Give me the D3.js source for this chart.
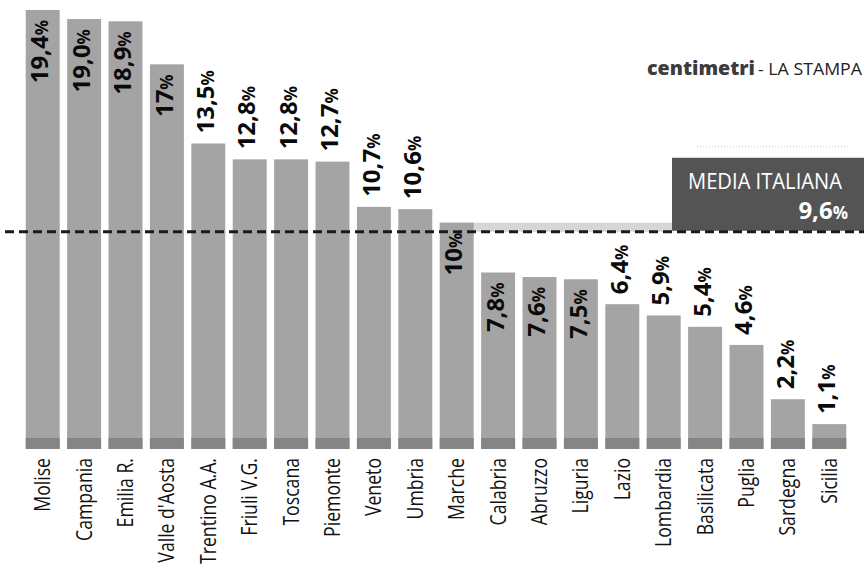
<!DOCTYPE html>
<html>
<head>
<meta charset="utf-8">
<script src="https://cdn.jsdelivr.net/npm/d3@7"></script>
<style>
  html, body { margin: 0; padding: 0; background: #fff; }
  svg { display: block; }
  text { font-family: "Open Sans", "Noto Sans", sans-serif; }
</style>
</head>
<body>
<svg id="chart" width="864" height="565"></svg>
<script>
// Regional values (%), ordered as drawn
const regions = ["Molise", "Campania", "Emilia R.", "Valle d'Aosta", "Trentino A.A.", "Friuli V.G.",
  "Toscana", "Piemonte", "Veneto", "Umbria", "Marche", "Calabria", "Abruzzo", "Liguria",
  "Lazio", "Lombardia", "Basilicata", "Puglia", "Sardegna", "Sicilia"];
const values = [19.4, 19.0, 18.9, 17, 13.5, 12.8, 12.8, 12.7, 10.7, 10.6, 10, 7.8, 7.6, 7.5,
  6.4, 5.9, 5.4, 4.6, 2.2, 1.1];
const valueLabels = ["19,4", "19,0", "18,9", "17", "13,5", "12,8", "12,8", "12,7", "10,7", "10,6",
  "10", "7,8", "7,6", "7,5", "6,4", "5,9", "5,4", "4,6", "2,2", "1,1"];
// bars whose value label sits inside the bar
const labelInside = ["Molise", "Campania", "Emilia R.", "Valle d'Aosta", "Marche", "Calabria", "Abruzzo", "Liguria"];
const average = 9.6;
const averageLabel = "9,6";
const averageTitle = "MEDIA ITALIANA";

const svg = d3.select("#chart");
const baseY = 449;

const x = d3.scaleBand().domain(regions).range([22, 850]).paddingInner(0.18).paddingOuter(0.09);
const y = d3.scaleLinear().domain([0, 19.4]).range([baseY, 10]);

const data = regions.map((r, i) => ({ region: r, value: values[i], label: valueLabels[i], inside: labelInside.includes(r) }));

// light band between Marche bar top and the average line
const avgY = y(average);
svg.append("rect")
  .attr("x", x("Marche"))
  .attr("y", y(10))
  .attr("width", 672 - x("Marche"))
  .attr("height", avgY - y(10))
  .attr("fill", "#d6d6d6");

// bars
const bars = svg.append("g");
bars.selectAll("rect.bar").data(data).join("rect")
  .attr("class", "bar")
  .attr("x", d => x(d.region))
  .attr("y", d => y(d.value))
  .attr("width", x.bandwidth())
  .attr("height", d => baseY - y(d.value))
  .attr("fill", "#a4a4a4");
bars.selectAll("rect.foot").data(data).join("rect")
  .attr("class", "foot")
  .attr("x", d => x(d.region))
  .attr("y", d => Math.max(y(d.value), baseY - 11))
  .attr("width", x.bandwidth())
  .attr("height", d => Math.min(11, baseY - y(d.value)))
  .attr("fill", "#858585");

// average box
const box = svg.append("g");
box.append("line")
  .attr("x1", 697).attr("x2", 850)
  .attr("y1", avgY - 85).attr("y2", avgY - 85)
  .attr("stroke", "#c4c4c4").attr("stroke-width", 1).attr("stroke-dasharray", "1,2");
box.append("rect")
  .attr("x", 672).attr("y", avgY - 74)
  .attr("width", 192).attr("height", 73)
  .attr("fill", "#545454");
box.append("text")
  .attr("x", 688).attr("y", avgY - 43)
  .attr("font-size", 21)
  .attr("fill", "#fff")
  .attr("textLength", 154).attr("lengthAdjust", "spacingAndGlyphs")
  .text(averageTitle);
const avgText = box.append("text")
  .attr("x", 848).attr("y", avgY - 13)
  .attr("text-anchor", "end")
  .attr("font-weight", "bold")
  .attr("fill", "#fff");
avgText.append("tspan").attr("font-size", 24).text(averageLabel);
avgText.append("tspan").attr("font-size", 17).text("%");

// average dashed line
svg.append("line")
  .attr("x1", 5).attr("x2", 864)
  .attr("y1", avgY).attr("y2", avgY)
  .attr("stroke", "#1a1a1a").attr("stroke-width", 3)
  .attr("stroke-dasharray", "9,5");

// value labels, rotated
const vl = svg.append("g").selectAll("text").data(data).join("text")
  .attr("transform", d => {
    const cx = x(d.region) + x.bandwidth() / 2;
    const ty = d.inside ? y(d.value) + 10 : y(d.value) - 10;
    return `translate(${cx},${ty}) rotate(-90)`;
  })
  .attr("text-anchor", d => d.inside ? "end" : "start")
  .attr("dy", "0.36em")
  .attr("font-weight", "bold")
  .attr("fill", "#0a0a0a");
vl.append("tspan").attr("font-size", 24).text(d => d.label);
vl.append("tspan").attr("font-size", 17).text("%");

// category labels, rotated
svg.append("g").selectAll("text").data(data).join("text")
  .attr("transform", d => `translate(${x(d.region) + x.bandwidth() / 2},458) rotate(-90)`)
  .attr("text-anchor", "end")
  .attr("dy", "0.36em")
  .attr("font-size", 21)
  .attr("fill", "#111")
  .text(d => d.region)
  .each(function () {
    const w = this.getComputedTextLength();
    d3.select(this).attr("textLength", w * 0.84).attr("lengthAdjust", "spacingAndGlyphs");
  });

// source credit
svg.append("text")
  .attr("x", 647).attr("y", 75)
  .attr("font-size", 20).attr("font-weight", 800)
  .attr("fill", "#3c3c3c")
  .attr("textLength", 108).attr("lengthAdjust", "spacingAndGlyphs")
  .text("centimetri");
svg.append("text")
  .attr("x", 758).attr("y", 75)
  .attr("font-size", 17)
  .attr("fill", "#222")
  .attr("textLength", 104).attr("lengthAdjust", "spacingAndGlyphs")
  .text("- LA STAMPA");
</script>
</body>
</html>
